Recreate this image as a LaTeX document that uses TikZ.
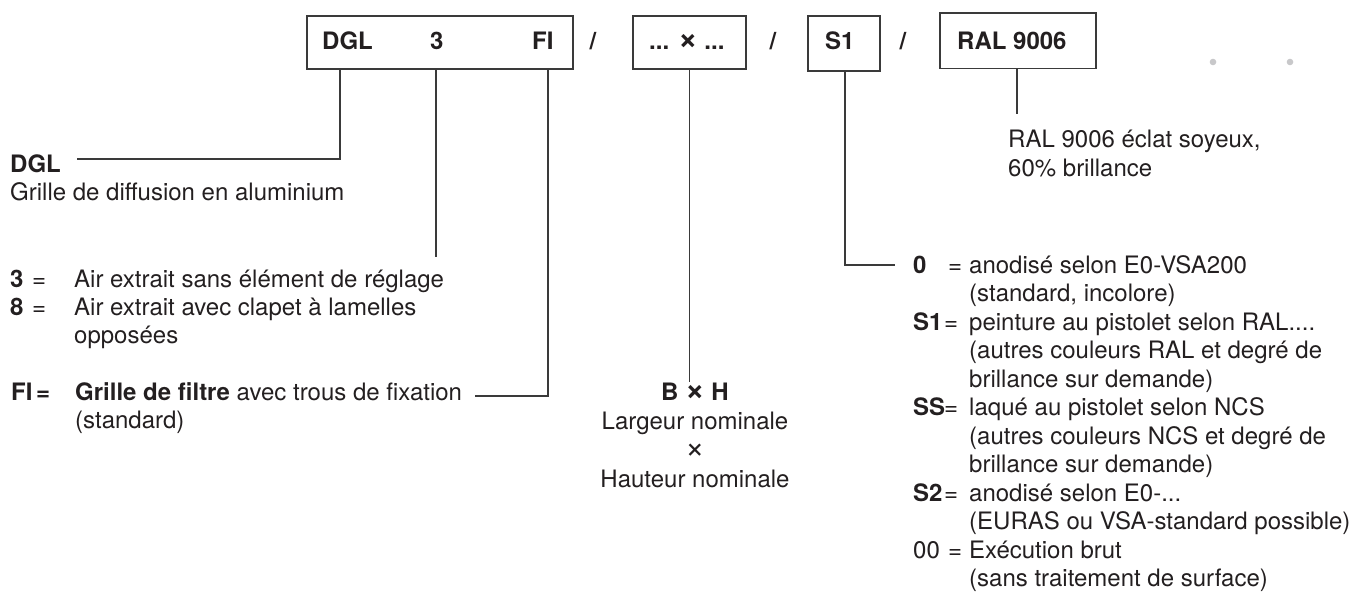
\documentclass[tikz,border=0pt]{standalone}
\usepackage{fontspec}
\setmainfont{TeX Gyre Heros}
\definecolor{ink}{HTML}{231F20}
\definecolor{rule}{HTML}{3A3A3A}
\definecolor{dotgray}{HTML}{C8C8CA}
\newcommand{\bigtimes}{\scalebox{1.4}{×}}
\begin{document}
\begin{tikzpicture}[x=1pt,y=-1pt,
  txt/.style={inner sep=0pt,anchor=base west,text=ink,font=\fontsize{24}{28.5}\selectfont},
  ctxt/.style={txt,anchor=base},
  bold/.style={txt,font=\fontsize{24}{28.5}\selectfont\bfseries},
  cbold/.style={bold,anchor=base},
  codebox/.style={draw=rule,line width=1.4pt,fill=none,inner sep=0pt},
  conn/.style={draw=rule,line width=1.1pt},
  gdot/.style={fill=dotgray,draw=none}]
\useasboundingbox (0,0) rectangle (1352,594);

% ---- code boxes ----
\path[codebox] (307,16) rectangle (573,69);
\node[inner sep=0pt,minimum width=266pt,minimum height=53pt] (b1) at (440,42.5) {};
\path[codebox] (633,16) rectangle (746,69);
\node[inner sep=0pt,minimum width=113pt,minimum height=53pt] (b2) at (689.5,42.5) {};
\path[codebox] (808,16) rectangle (880,71);
\node[inner sep=0pt,minimum width=72pt,minimum height=55pt] (b3) at (844,43.5) {};
\path[codebox] (940,13) rectangle (1096,68.5);
\node[inner sep=0pt,minimum width=156pt,minimum height=55.5pt] (b4) at (1018,40.75) {};

\node[bold] (tDGL) at (322,49) {DGL};
\node[bold] (t3) at (430,49) {3};
\node[bold] (tFI) at (532,49) {FI};
\node[cbold] (sl1) at (593,50) {/};
\node[bold] (tBH) at (649,49) {... \bigtimes{} ...};
\node[cbold] (sl2) at (773,50) {/};
\node[bold] (tS1) at (825,50) {S1};
\node[cbold] (sl3) at (903,50) {/};
\node[bold] (tRAL) at (957,50) {RAL 9006};

\fill[gdot] (1213,62) circle (3.3);
\fill[gdot] (1290,62) circle (3.3);

% ---- connector points ----
\coordinate (k1) at (340,69);
\coordinate (k2) at (436,69);
\coordinate (k3) at (548,69);
\coordinate (k4) at (689.5,69);
\coordinate (k5) at (845,71);
\coordinate (k6) at (1017,68.5);
\coordinate (e1) at (77,159);
\coordinate (e2) at (436,257);
\coordinate (e3) at (475,396);
\coordinate (e4) at (689.5,382);
\coordinate (e5) at (895,265);
\coordinate (e6) at (1017,114);

\draw[conn] (k1) |- (e1);
\draw[conn] (k2) -- (e2);
\draw[conn] (k3) |- (e3);
\draw[conn] (k4) -- (e4);
\draw[conn] (k5) |- (e5);
\draw[conn] (k6) -- (e6);

% ---- left column ----
\node[bold] (lDGL) at (10,172) {DGL};
\node[txt] (lDGLd) at (10,200) {Grille de diffusion en aluminium};

\node[bold] (l3) at (10,287) {3};
\node[txt] (l3eq) at (32,287) {=};
\node[txt] (l3d) at (74,287) {Air extrait sans élément de réglage};
\node[bold] (l8) at (10,315) {8};
\node[txt] (l8eq) at (32,315) {=};
\node[txt] (l8d) at (74,315) {Air extrait avec clapet à lamelles};
\node[txt] (l8d2) at (74,343) {opposées};

\node[bold] (lFI) at (11,400) {FI};
\node[bold] (lFIeq) at (36,400) {=};
\node[txt] (lFId) at (75,400) {\textbf{Grille de filtre} avec trous de fixation};
\node[txt] (lFId2) at (75,428) {(standard)};

% ---- middle column ----
\node[cbold] (mBH) at (695,400) {B \bigtimes{} H};
\node[ctxt] (mL) at (695,429) {Largeur nominale};
\node[ctxt] (mx) at (695,458) {\bigtimes};
\node[ctxt] (mH) at (695,487) {Hauteur nominale};

% ---- RAL note ----
\node[txt] (rRAL1) at (1008,147) {RAL 9006 éclat soyeux,};
\node[txt] (rRAL2) at (1008,176) {60\% brillance};

% ---- right column ----
\node[bold] (r0) at (913,273) {0};
\node[txt] (r0eq) at (948,273) {=};
\node[txt] (r0a) at (969,273) {anodisé selon E0-VSA200};
\node[txt] (r0b) at (969,301.5) {(standard, incolore)};

\node[bold] (rS1) at (913,330) {S1};
\node[txt] (rS1eq) at (944,330) {=};
\node[txt] (rS1a) at (969,330) {peinture au pistolet selon RAL....};
\node[txt] (rS1b) at (969,358.5) {(autres couleurs RAL et degré de};
\node[txt] (rS1c) at (969,387) {brillance sur demande)};

\node[bold] (rSS) at (913,415.5) {SS};
\node[txt] (rSSeq) at (944,415.5) {=};
\node[txt] (rSSa) at (969,415.5) {laqué au pistolet selon NCS};
\node[txt] (rSSb) at (969,444) {(autres couleurs NCS et degré de};
\node[txt] (rSSc) at (969,472.5) {brillance sur demande)};

\node[bold] (rS2) at (913,501) {S2};
\node[txt] (rS2eq) at (944,501) {=};
\node[txt] (rS2a) at (969,501) {anodisé selon E0-...};
\node[txt] (rS2b) at (969,529.5) {(EURAS ou VSA-standard possible)};

\node[txt] (r00) at (913,558) {00};
\node[txt] (r00eq) at (948,558) {=};
\node[txt] (r00a) at (969,558) {Exécution brut};
\node[txt] (r00b) at (969,586.5) {(sans traitement de surface)};
\end{tikzpicture}
\end{document}
